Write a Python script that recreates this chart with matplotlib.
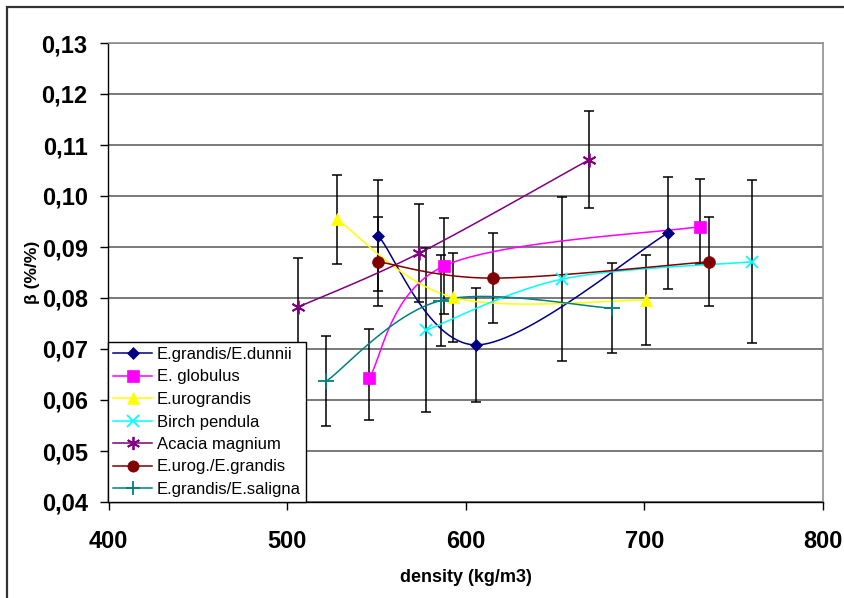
import numpy as np
import matplotlib
matplotlib.use('Agg')
import matplotlib.pyplot as plt
from matplotlib.patches import Rectangle
from matplotlib.lines import Line2D
from matplotlib.ticker import FuncFormatter

plt.rcParams['font.family'] = ['Liberation Sans', 'DejaVu Sans']

# ---------------- data ----------------
names = ['E.grandis/E.dunnii', 'E. globulus', 'E.urograndis', 'Birch pendula',
         'Acacia magnium', 'E.urog./E.grandis', 'E.grandis/E.saligna']

dunnii_x = [551, 606, 713]
dunnii_y = [0.0922, 0.0708, 0.0927]
dunnii_lo = [0.0109, 0.0112, 0.0110]
dunnii_hi = [0.0109, 0.0112, 0.0110]

globulus_x = [546, 588, 731]
globulus_y = [0.0644, 0.0863, 0.0940]
globulus_lo = [0.0084, 0.0094, 0.0073]
globulus_hi = [0.0095, 0.0094, 0.0093]

urograndis_x = [528, 593, 701]
urograndis_y = [0.0954, 0.0801, 0.0796]
urograndis_lo = [0.0088, 0.0087, 0.0088]
urograndis_hi = [0.0088, 0.0087, 0.0088]

birch_x = [578, 654, 760]
birch_y = [0.0737, 0.0837, 0.0871]
birch_lo = [0.0161, 0.0161, 0.0160]
birch_hi = [0.0161, 0.0161, 0.0160]

acacia_x = [506, 574, 669]
acacia_y = [0.0782, 0.0888, 0.1071]
acacia_lo = [0.0096, 0.0096, 0.0095]
acacia_hi = [0.0096, 0.0096, 0.0095]

urog_x = [551, 615, 736]
urog_y = [0.0871, 0.0839, 0.0871]
urog_lo = [0.0087, 0.0088, 0.0087]
urog_hi = [0.0087, 0.0088, 0.0087]

saligna_x = [522, 586, 682]
saligna_y = [0.0637, 0.0795, 0.0780]
saligna_lo = [0.0088, 0.0089, 0.0088]
saligna_hi = [0.0088, 0.0089, 0.0088]

x_ticks = [400, 500, 600, 700, 800]
y_ticks = [0.04, 0.05, 0.06, 0.07, 0.08, 0.09, 0.10, 0.11, 0.12, 0.13]

series = [
    (dunnii_x, dunnii_y, dunnii_lo, dunnii_hi),
    (globulus_x, globulus_y, globulus_lo, globulus_hi),
    (urograndis_x, urograndis_y, urograndis_lo, urograndis_hi),
    (birch_x, birch_y, birch_lo, birch_hi),
    (acacia_x, acacia_y, acacia_lo, acacia_hi),
    (urog_x, urog_y, urog_lo, urog_hi),
    (saligna_x, saligna_y, saligna_lo, saligna_hi),
]
colors = ['#000080', '#FF00FF', '#FFFF00', '#00FFFF', '#800080', '#800000', '#008080']
markers = ['D', 's', '^', 'x', (6, 2, 0), 'o', '+']
msizes = [6.5, 8.5, 9, 9, 10, 8.5, 11]

# ---------------- figure ----------------
W, H = 845, 598
fig = plt.figure(figsize=(W / 100, H / 100), dpi=100)
ax = fig.add_axes([108.5 / W, 1 - 502 / H, (823 - 108.5) / W, (502 - 43) / H])
ax.set_xlim(400, 800)
ax.set_ylim(0.04, 0.13)


def smooth(xs, ys, n=40):
    """Excel-like Bezier smoothing computed in display space."""
    P = ax.transData.transform(np.column_stack([xs, ys]))
    m = len(P)
    out = [P[0]]
    for i in range(m - 1):
        p0 = P[i]
        p3 = P[i + 1]
        pm = P[i - 1] if i > 0 else P[i]
        pp = P[i + 2] if i + 2 < m else P[i + 1]
        c1 = p0 + (p3 - pm) / 6.0
        c2 = p3 - (pp - p0) / 6.0
        t = np.linspace(0, 1, n)[1:, None]
        seg = ((1 - t) ** 3) * p0 + 3 * ((1 - t) ** 2) * t * c1 + 3 * (1 - t) * t ** 2 * c2 + t ** 3 * p3
        out.extend(seg)
    out = np.array(out)
    D = ax.transData.inverted().transform(out)
    return D[:, 0], D[:, 1]


handles = []
for (xs, ys, lo, hi), c, mk, ms, nm in zip(series, colors, markers, msizes, names):
    ax.errorbar(xs, ys, yerr=[lo, hi], fmt='none', ecolor='black', elinewidth=1.1,
                capsize=3.6, capthick=1.1, zorder=2)
    sx, sy = smooth(xs, ys)
    ax.plot(sx, sy, color=c, lw=1.1, zorder=3)
    mew = 1.3 if mk in ('x', '+') or isinstance(mk, tuple) else 0.5
    ax.plot(xs, ys, linestyle='none', marker=mk, markersize=ms, color=c,
            markeredgecolor=c, markeredgewidth=mew, zorder=4)
    handles.append(Line2D([], [], color=c, lw=1.1, marker=mk, markersize=ms * 0.95,
                          markeredgecolor=c, markeredgewidth=mew, label=nm))

# grid & spines
ax.set_yticks(y_ticks)
ax.set_xticks(x_ticks)
ax.yaxis.grid(True, color='#555555', lw=1.1)
ax.set_axisbelow(True)
for s in ('top', 'right'):
    ax.spines[s].set_color('#909090')
    ax.spines[s].set_linewidth(1.2)
for s in ('left', 'bottom'):
    ax.spines[s].set_color('black')
    ax.spines[s].set_linewidth(1.0)

ax.yaxis.set_major_formatter(FuncFormatter(lambda v, p: f"{v:.2f}".replace('.', ',')))
ax.xaxis.set_major_formatter(FuncFormatter(lambda v, p: f"{v:.0f}"))
ax.tick_params(axis='y', direction='out', length=6, width=1, pad=9, labelsize=17)
ax.tick_params(axis='x', direction='out', length=6, width=1, pad=14, labelsize=17)
for lab in ax.get_xticklabels() + ax.get_yticklabels():
    lab.set_fontweight('bold')

ax.set_xlabel('density (kg/m3)', fontsize=13, fontweight='bold', labelpad=12)
ax.set_ylabel('β (%/%)', fontsize=12.5, fontweight='bold', labelpad=1)

leg = ax.legend(handles=handles, loc='lower left', bbox_to_anchor=(0, 0),
                borderaxespad=0, frameon=True, fancybox=False, edgecolor='black',
                framealpha=1, fontsize=12, handlelength=2.3, labelspacing=0.45,
                borderpad=0.3, handletextpad=0.3)
leg.get_frame().set_linewidth(1.0)
leg.set_zorder(10)

# outer figure border (top and left visible)
fig.add_artist(Rectangle((7 / W, -0.1), 1.2, 1.1 - 7 / H, transform=fig.transFigure,
                         fill=False, edgecolor='#333333', lw=1.6))

fig.savefig('out.png', dpi=100)
